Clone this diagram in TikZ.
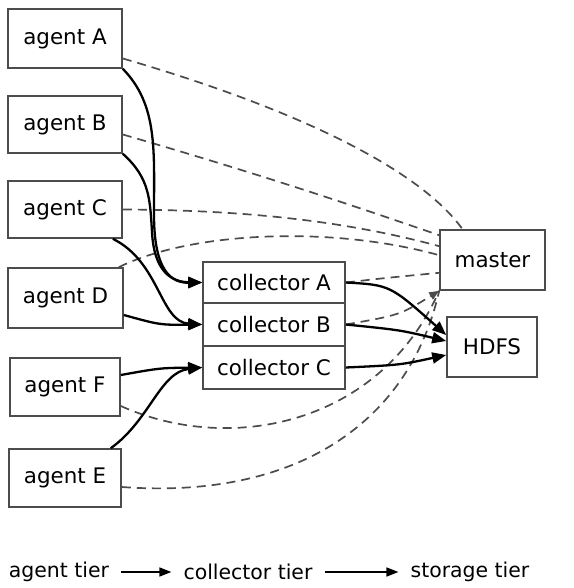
\documentclass[tikz,border=0pt]{standalone}
\usepackage{fontspec}
\setmainfont{DejaVu Sans}
\usetikzlibrary{arrows.meta}
\begin{document}
\begin{tikzpicture}[x=1bp,y=-1bp,
  box/.style={draw=black!70,line width=1.6bp,inner sep=0pt,font=\fontsize{21.5}{24}\selectfont,text=black},
  flow/.style={draw=black,line width=2.3bp,-{Triangle[length=14bp,width=11bp]}},
  ctrl/.style={draw=black!70,line width=1.7bp,dash pattern=on 9bp off 6bp},
  lbl/.style={font=\fontsize{20.5}{23}\selectfont,text=black,inner sep=0pt}]
\useasboundingbox (0,0) rectangle (574,588);
% agents
\node[box,minimum width=114bp,minimum height=59bp] (aA) at (65,38.5) {agent A};
\node[box,minimum width=114bp,minimum height=57bp] (aB) at (65,124.5) {agent B};
\node[box,minimum width=114bp,minimum height=57bp] (aC) at (65,209.5) {agent C};
\node[box,minimum width=115bp,minimum height=60bp] (aD) at (65.5,298) {agent D};
\node[box,minimum width=110bp,minimum height=58bp] (aF) at (65,387) {agent F};
\node[box,minimum width=112bp,minimum height=58bp] (aE) at (65,478) {agent E};
% collectors
\node[box,minimum width=142bp,minimum height=41bp] (cA) at (274,282.5) {collector A};
\node[box,minimum width=142bp,minimum height=43bp] (cB) at (274,324.5) {collector B};
\node[box,minimum width=142bp,minimum height=43bp] (cC) at (274,367.5) {collector C};
% storage
\node[box,minimum width=105bp,minimum height=60bp] (master) at (492.5,260) {master};
\node[box,minimum width=90bp,minimum height=60bp] (hdfs) at (492,347) {HDFS};
% dashed control lines
\draw[ctrl] ([yshift=-20bp]aA.east) .. controls (300,110) and (420,170) .. ([xshift=-30bp]master.north);
\draw[ctrl] ([yshift=-10bp]aB.east) .. controls (280,180) and (380,215) .. ([yshift=-6bp]master.north west);
\draw[ctrl] (aC.east) .. controls (250,210) and (350,222) .. ([yshift=-17bp]master.north west);
\draw[ctrl] ([xshift=-5bp]aD.north east) .. controls (190,232) and (330,225) .. ([yshift=-26bp]master.north west);
\draw[ctrl] (cA.east) .. controls (385,278) .. ([yshift=18bp]master.south west);
\draw[ctrl,-{Triangle[length=10bp,width=8bp]}] (cB.east) .. controls (400,315) .. (master.south west);
\draw[ctrl] ([yshift=-19bp]aF.east) .. controls (230,455) and (380,425) .. (master.south west);
\draw[ctrl] ([yshift=-9bp]aE.east) .. controls (300,500) and (410,420) .. (master.south west);
% solid data flow
\draw[flow] (aA.south east) .. controls (158,105) and (154,150) .. (154,215) .. controls (154,272) and (172,283) .. (cA.west);
\draw[flow] (aB.south east) .. controls (150,178) and (150,200) .. (152,232) .. controls (154,272) and (172,282) .. (cA.west);
\draw[flow] ([xshift=-10bp]aC.south east) .. controls (160,262) and (160,322) .. (cB.west);
\draw[flow] ([yshift=-17bp]aD.east) .. controls (160,325) .. (cB.west);
\draw[flow] ([yshift=12bp]aF.east) .. controls (160,368) .. (cC.west);
\draw[flow] ([xshift=-11bp]aE.north east) .. controls (150,420) and (160,372) .. (cC.west);
\draw[flow] (cA.east) .. controls (390,285) .. ([yshift=12bp]hdfs.west);
\draw[flow] (cB.east) .. controls (400,330) .. ([yshift=6bp]hdfs.west);
\draw[flow] (cC.east) .. controls (400,365) .. ([yshift=-8bp]hdfs.west);
% legend
\node[lbl] (tA) at (59,572) {agent tier};
\node[lbl] (tC) at (248,572) {collector tier};
\node[lbl] (tS) at (470,572) {storage tier};
\draw[draw=black,line width=1.5bp,-{Triangle[length=12bp,width=9bp]}] ([xshift=12bp]tA.east) -- ([xshift=-12bp]tC.west);
\draw[draw=black,line width=1.5bp,-{Triangle[length=12bp,width=9bp]}] ([xshift=12bp]tC.east) -- ([xshift=-12bp]tS.west);
\end{tikzpicture}
\end{document}
